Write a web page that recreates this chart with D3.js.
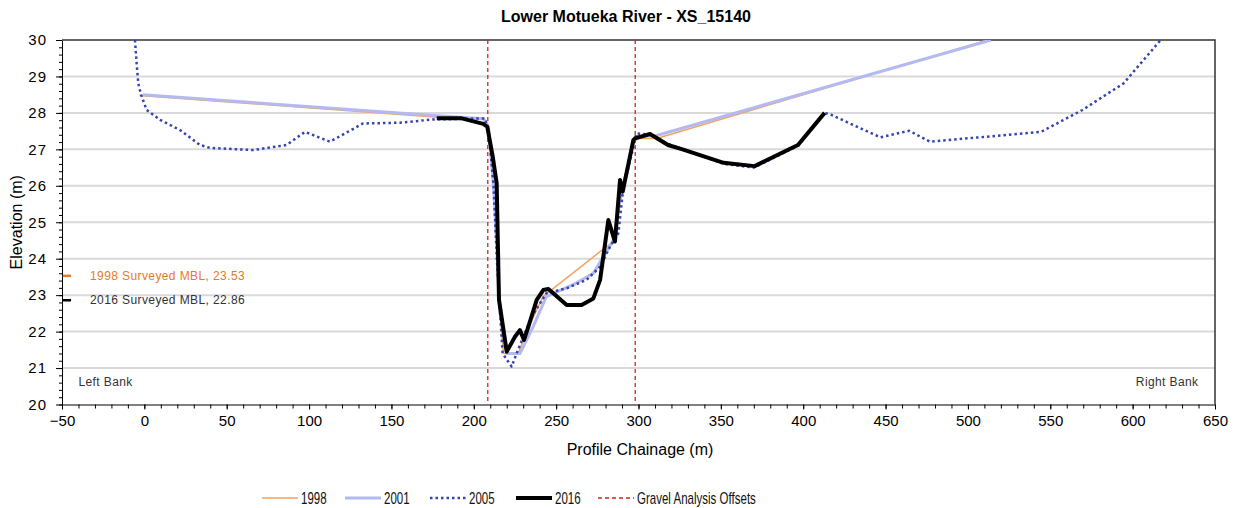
<!DOCTYPE html>
<html>
<head>
<meta charset="utf-8">
<script src="https://cdn.jsdelivr.net/npm/d3@7"></script>
<style>
  body { margin: 0; background: #fff; }
  svg { font-family: Arial, "Liberation Sans", sans-serif; }
  .grid line { stroke: #d9d9d9; stroke-width: 2; }
  .axis path, .axis line { stroke: #000; }
  .axis text { font-size: 15px; fill: #000; }
  .legend text { font-size: 16px; fill: #111; }
  .note { font-size: 12px; letter-spacing: 0.4px; }
</style>
</head>
<body>
<svg id="chart" width="1243" height="508"></svg>
<script>
// chainage (m), elevation (m)
const series1998 = [[-3, 28.48], [178, 27.88], [206, 27.82], [209, 27.6], [212, 26], [214, 24.5], [216, 22.5], [218, 21.4], [227, 21.4], [233, 22.1], [242, 22.96], [278, 24.24], [286, 24.5], [289, 25.8], [297, 27.2], [300, 27.3], [311, 27.3], [512, 30]];
const series2001 = [[-1, 28.5], [178, 27.92], [206, 27.84], [209, 27.6], [212, 26], [214, 24.3], [216, 22.5], [220, 21.4], [228, 21.4], [236, 22.13], [244, 22.96], [260, 23.28], [272.6, 23.6], [278.6, 24.05], [284.7, 24.51], [288.8, 25.6], [294.9, 26.8], [298, 27.35], [311, 27.38], [514, 30]];
const series2005 = [[-5.7, 30], [-4.7, 29.36], [-3.7, 28.81], [-2, 28.5], [1.4, 28.08], [9.5, 27.81], [21.6, 27.53], [33.8, 27.12], [39.9, 27.04], [66, 26.98], [86.4, 27.12], [97.5, 27.48], [112.7, 27.21], [132.8, 27.71], [155, 27.73], [175.3, 27.82], [206.8, 27.85], [209, 27.5], [212, 26], [214, 24], [216, 22.5], [217.5, 21.4], [223, 21.04], [226, 21.4], [235, 22.4], [244, 23.05], [256.4, 23.19], [268.5, 23.42], [276.7, 23.78], [282.7, 24.33], [287.8, 24.7], [290.6, 25.88], [295, 26.71], [298.9, 27.44], [307, 27.4], [318, 27.15], [327, 27.0], [352, 26.6], [370, 26.5], [397, 27.1], [413, 28.0], [416.8, 27.95], [446.8, 27.33], [464.4, 27.51], [476.9, 27.21], [544.4, 27.48], [569.5, 28.08], [594.5, 28.81], [617, 30]];
const series2016 = [[177.5, 27.85], [192.7, 27.85], [205.8, 27.7], [208.2, 27.62], [211.5, 26.8], [213.9, 26.07], [215.3, 22.87], [220, 21.45], [225, 21.86], [228, 22.04], [230.5, 21.77], [233.1, 22.13], [238.2, 22.87], [242.2, 23.14], [245.3, 23.17], [256.4, 22.73], [265.5, 22.73], [272.6, 22.91], [276.7, 23.42], [281.7, 25.06], [285.7, 24.47], [288.8, 26.16], [290.4, 25.84], [296.9, 27.26], [297.9, 27.3], [307, 27.42], [317.9, 27.12], [326.7, 27.0], [351.7, 26.63], [370.5, 26.54], [396.8, 27.12], [413, 28.0]];
const gravelOffsets = [208.5, 298];
const mblLevels = [{label: '1998 Surveyed MBL, 23.53', value: 23.53, color: '#e87a22'},
                   {label: '2016 Surveyed MBL, 22.86', value: 22.86, color: '#000'}];
const xTicks = d3.range(-50, 651, 50);
const yTicks = d3.range(20, 31, 1);
const bankLabels = ['Left Bank', 'Right Bank'];

const svg = d3.select('#chart');
const plotLeft = 62, plotRight = 1215, plotTop = 40, plotBottom = 404.5;

const x = d3.scaleLinear().domain([-50, 650]).range([plotLeft, plotRight]);
const y = d3.scaleLinear().domain([20, 30]).range([plotBottom, plotTop]);

// title
svg.append('text')
  .attr('x', 626).attr('y', 22)
  .attr('text-anchor', 'middle')
  .style('font-size', '16px').style('font-weight', 'bold')
  .text('Lower Motueka River - XS_15140');

// gridlines
svg.append('g').attr('class', 'grid')
  .selectAll('line').data(yTicks.slice(1, -1)).join('line')
  .attr('x1', plotLeft).attr('x2', plotRight)
  .attr('y1', d => y(d)).attr('y2', d => y(d));

// minor ticks
svg.append('g').attr('class', 'axis')
  .attr('transform', 'translate(' + plotLeft + ',0)')
  .call(d3.axisLeft(y).tickValues(d3.range(20, 30.01, 0.2)).tickSize(3).tickFormat(''))
  .call(g => g.select('.domain').remove());
svg.append('g').attr('class', 'axis')
  .attr('transform', 'translate(0,' + plotBottom + ')')
  .call(d3.axisBottom(x).tickValues(d3.range(-50, 651, 10)).tickSize(4).tickFormat(''))
  .call(g => g.select('.domain').remove());

// major axes
svg.append('g').attr('class', 'axis')
  .attr('transform', 'translate(' + plotLeft + ',0)')
  .call(d3.axisLeft(y).tickValues(yTicks).tickSize(6).tickSizeOuter(0).tickPadding(9))
  .call(g => g.selectAll('text').attr('letter-spacing', '1px'));
svg.append('g').attr('class', 'axis')
  .attr('transform', 'translate(0,' + plotBottom + ')')
  .call(d3.axisBottom(x).tickValues(xTicks).tickSize(5).tickSizeOuter(0).tickPadding(6));

// frame top/right
svg.append('path')
  .attr('d', `M${plotLeft},${plotTop}H${plotRight}V${plotBottom}`)
  .attr('fill', 'none').attr('stroke', '#333').attr('stroke-width', 1.5);

// axis titles
svg.append('text')
  .attr('transform', `translate(22,${(plotTop + plotBottom) / 2}) rotate(-90)`)
  .attr('text-anchor', 'middle').style('font-size', '16px')
  .text('Elevation (m)');
svg.append('text')
  .attr('x', 640).attr('y', 455)
  .attr('text-anchor', 'middle').style('font-size', '16px')
  .text('Profile Chainage (m)');

svg.append('clipPath').attr('id', 'plot-clip')
  .append('rect').attr('x', plotLeft).attr('y', plotTop)
  .attr('width', plotRight - plotLeft).attr('height', plotBottom - plotTop);

const plot = svg.append('g').attr('clip-path', 'url(#plot-clip)');

const line = d3.line().x(d => x(d[0])).y(d => y(d[1]));

// gravel analysis offsets
plot.selectAll('.offset').data(gravelOffsets).join('line')
  .attr('class', 'offset')
  .attr('x1', d => x(d)).attr('x2', d => x(d))
  .attr('y1', plotTop).attr('y2', plotBottom)
  .attr('stroke', '#d42020').attr('stroke-width', 1.3).attr('stroke-dasharray', '4,3');

const styles = [
  {name: '1998', data: series1998, color: '#f5a25d', width: 1.5, dash: null},
  {name: '2001', data: series2001, color: '#b3b9f1', width: 3, dash: null},
  {name: '2005', data: series2005, color: '#3545b0', width: 2.5, dash: '2.5,3'},
  {name: '2016', data: series2016, color: '#000', width: 4, dash: null},
];

plot.selectAll('.series').data(styles).join('path')
  .attr('class', 'series')
  .attr('d', d => line(d.data))
  .attr('fill', 'none')
  .attr('stroke', d => d.color)
  .attr('stroke-width', d => d.width)
  .attr('stroke-dasharray', d => d.dash)
  .attr('stroke-linejoin', 'round');

// MBL markers
const mbl = svg.append('g');
mbl.selectAll('line').data(mblLevels).join('line')
  .attr('x1', x(-49.5)).attr('x2', x(-44.5))
  .attr('y1', d => y(d.value)).attr('y2', d => y(d.value))
  .attr('stroke', d => d.color).attr('stroke-width', 2.5);
mbl.selectAll('text').data(mblLevels).join('text')
  .attr('class', 'note')
  .attr('x', x(-33)).attr('y', d => y(d.value) + 4)
  .attr('fill', (d, i) => i === 0 ? d.color : '#333')
  .text(d => d.label);

// bank labels
svg.append('text').attr('class', 'note').attr('x', x(-40)).attr('y', 386).attr('fill', '#333').text(bankLabels[0]);
svg.append('text').attr('class', 'note').attr('x', x(640)).attr('y', 386).attr('text-anchor', 'end').attr('fill', '#333').text(bankLabels[1]);

// legend (narrow font look via horizontal squeeze)
const legendItems = styles.map(s => ({label: s.name, color: s.color, width: s.width, dash: s.dash}))
  .concat([{label: 'Gravel Analysis Offsets', color: '#d42020', width: 1.3, dash: '4,3'}]);
const legendX = [262, 345, 430, 516, 598];
const legend = svg.append('g').attr('class', 'legend');
legendItems.forEach((d, i) => {
  const g = legend.append('g').attr('transform', `translate(${legendX[i]},498)`);
  g.append('line').attr('x1', 0).attr('x2', 36).attr('y1', 0).attr('y2', 0)
    .attr('stroke', d.color).attr('stroke-width', d.width).attr('stroke-dasharray', d.dash);
  g.append('text').attr('transform', 'translate(39,6) scale(0.72,1)').text(d.label);
});
</script>
</body>
</html>
